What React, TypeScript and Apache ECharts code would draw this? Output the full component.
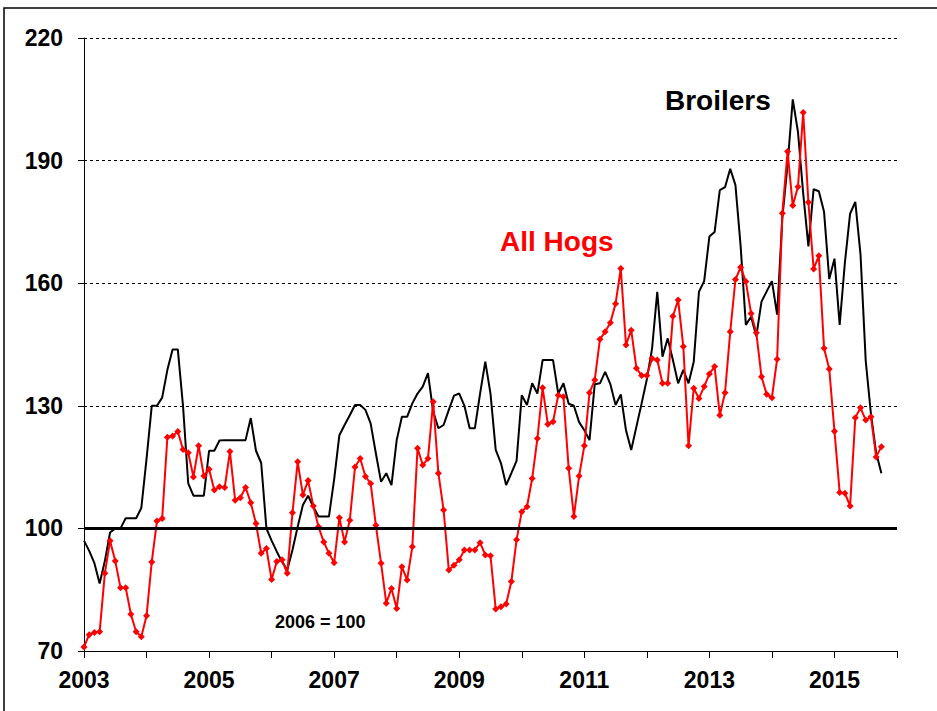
import React, { useEffect, useRef } from "react";
import * as echarts from "echarts";

// Monthly index values (2006 = 100), Jan 2003 .. Oct 2015
const startYear = 2003;

const broilers = [
  97, 94.5, 91.5, 86.5, 92, 99, 100, 100, 102.5, 102.5, 102.5, 105,
  117, 130, 130, 132, 138.8, 143.8, 143.8, 130, 111, 108, 108, 108,
  119, 119, 121.5, 121.6, 121.6, 121.6, 121.6, 121.6, 127, 119, 116, 100,
  97, 94.3, 91.8, 89.8, 94.7, 100.4, 105.7, 108, 105.3, 102.9, 102.9, 102.9,
  112, 122.8, 125.3, 127.7, 130.2, 130.2, 129, 125.7, 118.4, 111.4, 113.5, 110.6,
  121.6, 127.3, 127.3, 130.6, 133, 134.7, 138, 128.6, 124.5, 125.3, 129, 132.5,
  133, 130, 124.5, 124.5, 133, 140.8, 133, 119.2, 116, 110.6, 113.5, 116.5,
  132.6, 130.2, 135.5, 133, 141.2, 141.2, 141.2, 133, 135.5, 130.5, 130, 126,
  124, 121.6, 135.3, 135.5, 138.3, 135.3, 130.2, 132.8, 124, 119.2, 124.9, 130.6,
  136.5, 144, 157.9, 142, 146.5, 141.2, 135.5, 138.8, 135.5, 140.8, 157.9, 160.5,
  171.4, 172.5, 182.8, 183.5, 188, 184, 169, 149.8, 151.8, 147, 155.5, 158,
  160.5, 152.3, 176, 189, 205, 197, 182, 169, 183, 182.5, 177.5, 161,
  166, 149.8, 165, 177, 179.9, 167, 141, 128, 118.5, 113.5,
];

const allHogs = [
  71, 74, 74.5, 74.7, 89, 97, 92, 85.5, 85.5, 79, 74.7, 73.5,
  78.6, 91.8, 101.8, 102.4, 122.3, 122.6, 123.7, 119.3, 118.5, 112.6, 120.2, 112.8,
  114.5, 109.4, 110.2, 110, 118.8, 106.9, 107.5, 110, 106.3, 101.2, 93.9, 95.1,
  87.5, 91.9, 92.3, 89, 103.8, 116.3, 108.2, 111.7, 105.5, 100.4, 96.7, 93.9,
  91.6, 102.6, 96.7, 102, 115, 117.1, 112.7, 111, 100.8, 91.5, 81.7, 85.3,
  80.4, 90.6, 87.4, 95.5, 119.6, 115.5, 117.1, 131, 113.5, 104.5, 89.8, 91,
  92.3, 94.7, 94.7, 94.7, 96.5, 93.5, 93.3, 80.3, 80.8, 81.5, 87, 97.2,
  104.1, 105.3, 112.2, 122, 134.4, 125.5, 126.1, 132.6, 132.2, 114.7, 102.9, 112.8,
  120.2, 133.2, 136.3, 146.3, 148.1, 150.3, 155, 163.6, 144.9, 148.5, 139.2, 137.4,
  137.4, 141.6, 141.2, 135.5, 135.5, 151.9, 155.9, 144.5, 120.2, 134.3, 131.8, 134.7,
  137.8, 139.6, 127.7, 133.2, 148.1, 160.9, 163.9, 160.4, 152.6, 147.9, 137.1, 132.8,
  132, 141.4, 177.1, 192.2, 179, 183.6, 201.8, 179.8, 163.5, 166.7, 144.1, 139,
  123.8, 108.8, 108.6, 105.5, 127.1, 129.5, 126.5, 127.3, 117.5, 120,
];

const yTicks = [70, 100, 130, 160, 190, 220];
const xLabels = ["2003", "2005", "2007", "2009", "2011", "2013", "2015"];
const baseValue = 100;

const toPairs = (vals: number[]) => vals.map((v, i) => [startYear + i / 12, v]);

export default function App() {
  const ref = useRef<HTMLDivElement>(null);

  useEffect(() => {
    if (!ref.current) return;
    const chart = echarts.init(ref.current, undefined, { renderer: "svg" });
    const tickFont = {
      fontFamily: "'Liberation Sans', Arial, sans-serif",
      fontWeight: "bold" as const,
      fontSize: 23,
      color: "#000",
    };
    chart.setOption({
      animation: false,
      backgroundColor: "#fff",
      grid: { left: 84, top: 38, right: 40, bottom: 60, containLabel: false },
      xAxis: {
        type: "value",
        min: 2003,
        max: 2016,
        interval: 1,
        axisLine: { show: true, lineStyle: { color: "#000", width: 1 } },
        axisTick: { show: true, inside: false, length: 7, lineStyle: { color: "#000" } },
        splitLine: { show: false },
        axisLabel: {
          ...tickFont,
          margin: 17,
          showMaxLabel: true,
          formatter: (v: number) => (xLabels.includes(String(v)) ? String(v) : ""),
        },
      },
      yAxis: {
        type: "value",
        min: yTicks[0],
        max: yTicks[yTicks.length - 1],
        interval: 30,
        axisLine: { show: true, lineStyle: { color: "#000", width: 1 } },
        axisTick: { show: true, inside: false, length: 6, lineStyle: { color: "#000" } },
        splitLine: { show: true, lineStyle: { color: "#000", type: [3, 3], width: 1 } },
        axisLabel: { ...tickFont, margin: 21 },
      },
      series: [
        {
          name: "Broilers",
          type: "line",
          data: toPairs(broilers),
          showSymbol: false,
          symbol: "none",
          lineStyle: { color: "#000", width: 2 },
          itemStyle: { color: "#000" },
          z: 3,
          markLine: {
            silent: true,
            symbol: ["none", "none"],
            label: { show: false },
            lineStyle: { color: "#000", width: 3, type: "solid" },
            data: [{ yAxis: baseValue }],
          },
        },
        {
          name: "All Hogs",
          type: "line",
          data: toPairs(allHogs),
          symbol: "diamond",
          symbolSize: 7,
          showSymbol: true,
          lineStyle: { color: "#ff0000", width: 2 },
          itemStyle: { color: "#ff0000" },
          z: 4,
        },
      ],
      graphic: [
        {
          type: "rect",
          shape: { x: 4, y: 8, width: 1200, height: 1200 },
          style: { fill: "none", stroke: "#000", lineWidth: 1.5 },
          silent: true,
        },
        {
          type: "text",
          x: 665,
          y: 100,
          style: {
            text: "Broilers",
            fill: "#000",
            font: "bold 28px 'Liberation Sans', Arial, sans-serif",
            textAlign: "left",
            textVerticalAlign: "middle",
          },
        },
        {
          type: "text",
          x: 500,
          y: 241,
          style: {
            text: "All Hogs",
            fill: "#ff0000",
            font: "bold 28px 'Liberation Sans', Arial, sans-serif",
            textAlign: "left",
            textVerticalAlign: "middle",
          },
        },
        {
          type: "text",
          x: 275,
          y: 622,
          style: {
            text: "2006 = 100",
            fill: "#000",
            font: "bold 18px 'Liberation Sans', Arial, sans-serif",
            textAlign: "left",
            textVerticalAlign: "middle",
          },
        },
      ],
    });
    return () => chart.dispose();
  }, []);

  return (
    <div
      ref={ref}
      style={{ position: "absolute", left: 0, top: 0, width: 937, height: 711 }}
    />
  );
}
